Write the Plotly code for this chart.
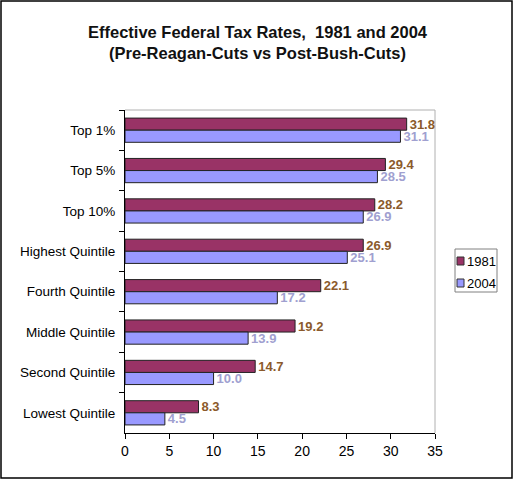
import plotly.graph_objects as go

# data
groups = ['Top 1%', 'Top 5%', 'Top 10%', 'Highest Quintile',
          'Fourth Quintile', 'Middle Quintile', 'Second Quintile', 'Lowest Quintile']
rate_1981 = [31.8, 29.4, 28.2, 26.9, 22.1, 19.2, 14.7, 8.3]
rate_2004 = [31.1, 28.5, 26.9, 25.1, 17.2, 13.9, 10.0, 4.5]
x_ticks = [0, 5, 10, 15, 20, 25, 30, 35]

W, H = 515, 480
L, R, T, B = 125, 80, 110, 47
pw, ph = W - L - R, H - T - B

font = 'Liberation Sans, Arial, sans-serif'
c1981, c2004 = '#993366', '#9999FF'


def px_x(p):
    return (p - L) / pw


def px_y(p):
    return (H - B - p) / ph


fig = go.Figure()
fig.add_trace(go.Bar(
    y=groups, x=rate_1981, name='1981', orientation='h',
    marker=dict(color=c1981, line=dict(color='#222222', width=1)),
    texttemplate='%{x:.1f}', textposition='outside', cliponaxis=False,
    constraintext='none',
    textfont=dict(color='#8B5A2B', size=13, family=font, weight='bold'),
))
fig.add_trace(go.Bar(
    y=groups, x=rate_2004, name='2004', orientation='h',
    marker=dict(color=c2004, line=dict(color='#222222', width=1)),
    texttemplate='%{x:.1f}', textposition='outside', cliponaxis=False,
    constraintext='none',
    textfont=dict(color='#A0A0D0', size=13, family=font, weight='bold'),
))

# compact legend box like the original (right side)
legend_shapes = [
    dict(type='rect', xref='paper', yref='paper', x0=px_x(455), x1=px_x(497),
         y0=px_y(292), y1=px_y(249), line=dict(color='#808080', width=1),
         fillcolor='white'),
]
legend_notes = []
for i, tr in enumerate(fig.data):
    cy = 261 + 22 * i
    legend_shapes.append(dict(type='rect', xref='paper', yref='paper',
                              x0=px_x(457), x1=px_x(464), y0=px_y(cy + 4), y1=px_y(cy - 4),
                              fillcolor=tr.marker.color, line=dict(color='#333333', width=1)))
    legend_notes.append(dict(text=tr.name, xref='paper', yref='paper', x=px_x(465), y=px_y(cy),
                             xanchor='left', yanchor='middle', showarrow=False,
                             font=dict(size=13, color='black')))

fig.update_layout(
    width=W, height=H,
    margin=dict(l=L, r=R, t=T, b=B),
    paper_bgcolor='white', plot_bgcolor='white',
    font=dict(family=font, size=13.5, color='black'),
    title=dict(text='Effective Federal Tax Rates,  1981 and 2004<br>(Pre-Reagan-Cuts vs Post-Bush-Cuts)',
               x=0.5, xanchor='center', y=1 - 38 / H, yanchor='middle',
               font=dict(size=16.5, color='#111111', weight='bold')),
    barmode='group', bargap=0.4, bargroupgap=0.0,
    showlegend=False,
    xaxis=dict(range=[0, 35], tickvals=x_ticks, showgrid=False, zeroline=False,
               showline=True, linecolor='black', linewidth=1, tickfont=dict(size=14),
               ticks='outside', ticklen=5, tickcolor='black', fixedrange=True),
    yaxis=dict(autorange='reversed', showgrid=False, showline=True, linecolor='black',
               linewidth=1, ticks='outside', ticklen=5, tickcolor='black',
               tickson='boundaries', ticklabelstandoff=6),
    annotations=legend_notes,
    shapes=[
        # grey plot frame top and right
        dict(type='line', xref='paper', yref='paper', x0=0, x1=1, y0=1, y1=1,
             line=dict(color='#B0B0B0', width=1), layer='below'),
        dict(type='line', xref='paper', yref='paper', x0=1, x1=1, y0=0, y1=1,
             line=dict(color='#B0B0B0', width=1), layer='below'),
        # outer chart border
        dict(type='rect', xref='paper', yref='paper',
             x0=px_x(1), x1=px_x(512), y0=px_y(478), y1=px_y(1),
             line=dict(color='black', width=1.5), layer='below'),
    ] + legend_shapes,
)

fig.write_html('out.html', config={'displayModeBar': False},
               post_script="document.body.style.margin='0';")
